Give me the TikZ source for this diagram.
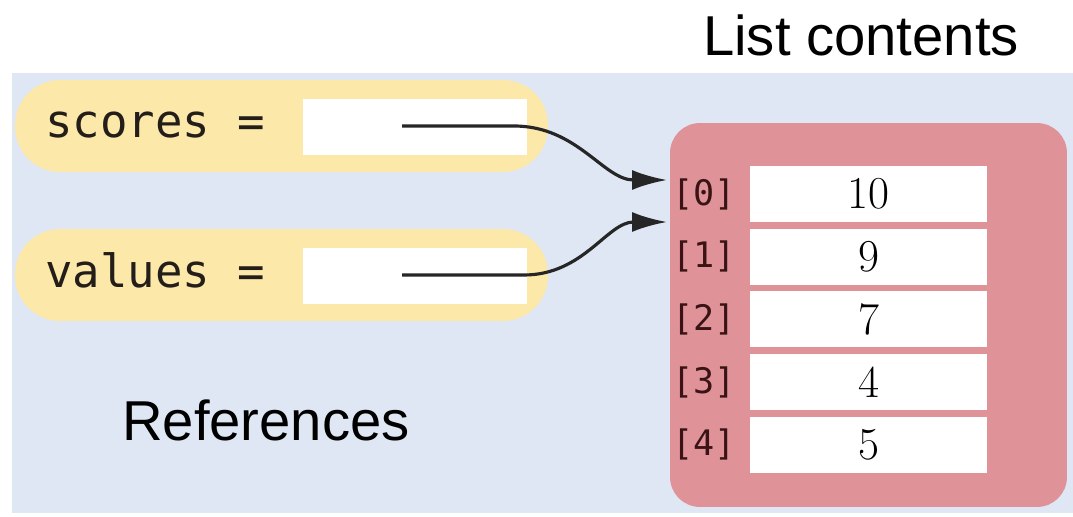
\documentclass[tikz,border=0pt]{standalone}
\usepackage{fontspec}
\usetikzlibrary{arrows.meta, positioning}
\newfontfamily\codefont{DejaVu Sans Mono}
\newfontfamily\captionfont{Liberation Sans}
\definecolor{bgpanel}{RGB}{223, 230, 244}
\definecolor{refpill}{RGB}{252, 233, 170}
\definecolor{listbody}{RGB}{224, 146, 153}
\definecolor{idxtext}{RGB}{58, 20, 20}
\definecolor{codetext}{RGB}{35, 30, 25}
\tikzset{
    pill/.style={rectangle, fill=refpill, rounded corners=0.9cm, minimum width=10.66cm, minimum height=1.84cm},
    slot/.style={rectangle, fill=white, minimum width=4.48cm, minimum height=1.12cm},
    varname/.style={anchor=base west, inner sep=0pt, text=codetext, font=\codefont\fontsize{26}{30}\selectfont},
    cell/.style={rectangle, fill=white, minimum width=4.74cm, minimum height=1.12cm, inner sep=0pt, font=\fontsize{26}{30}\selectfont},
    idx/.style={inner sep=0pt, text=idxtext, font=\codefont\fontsize{20}{24}\selectfont},
    caption/.style={font=\captionfont\fontsize{32}{38}\selectfont},
    refarrow/.style={-{Latex[length=7mm, width=4mm]}, line width=1.8pt, black!85}
}

\begin{document}
\begin{tikzpicture}[x=0.02cm, y=-0.02cm]
            \useasboundingbox (0,0) rectangle (1073,517);
            \fill[bgpanel] (12,73) rectangle (1073,513);

            % references
            \node (scorespill) [pill] at (281.5,126) {};
            \node (scoresslot) [slot] at (415,127) {};
            \node (scoresname) [varname] at (45,138) {scores =};
            \node (valuespill) [pill] at (281.5,275) {};
            \node (valuesslot) [slot] at (415,276) {};
            \node (valuesname) [varname] at (45,288) {values =};
            \node (refcaption) [caption] at (266,420) {References};

            % list object
            \node (listbox) [rectangle, fill=listbody, rounded corners=0.6cm, minimum width=7.94cm, minimum height=7.68cm] at (868.5,315) {};
            \node (cell0) [cell] at (868.5,194) {10};
            \node (cell1) [cell, below=0.12cm of cell0] {9};
            \node (cell2) [cell, below=0.12cm of cell1] {7};
            \node (cell3) [cell, below=0.12cm of cell2] {4};
            \node (cell4) [cell, below=0.12cm of cell3] {5};
            \node (idx0) [idx, left=0.27cm of cell0] {[0]};
            \node (idx1) [idx, left=0.27cm of cell1] {[1]};
            \node (idx2) [idx, left=0.27cm of cell2] {[2]};
            \node (idx3) [idx, left=0.27cm of cell3] {[3]};
            \node (idx4) [idx, left=0.27cm of cell4] {[4]};
            \node (listcaption) [caption] at (861,35) {List contents};

            \coordinate (scoresstart) at (402,126);
            \coordinate (scoresend) at (667,180);
            \coordinate (valuesstart) at (402,275);
            \coordinate (valuesend) at (667,222);
            \draw [refarrow] (scoresstart) -- ++(112,0) to[out=0, in=180] (scoresend);
            \draw [refarrow] (valuesstart) -- ++(122,0) to[out=0, in=180] (valuesend);
        \end{tikzpicture}
\end{document}
